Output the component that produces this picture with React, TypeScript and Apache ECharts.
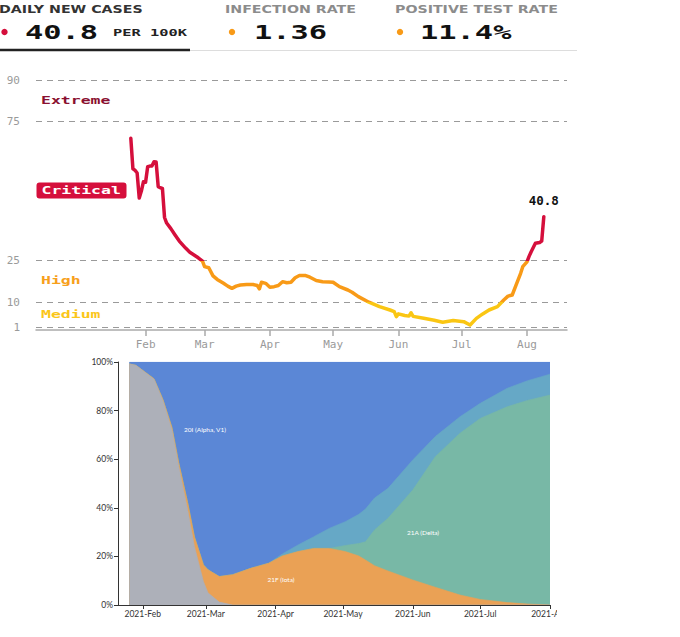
import React, { useEffect, useRef } from "react";
import * as echarts from "echarts";

// ---------- Daily new cases per 100K ----------
const caseDates = [
  "2021-01-25", "2021-01-26", "2021-01-27", "2021-01-28", "2021-01-29", "2021-01-30", "2021-01-31",
  "2021-02-01", "2021-02-02", "2021-02-03", "2021-02-04", "2021-02-05", "2021-02-06", "2021-02-07",
  "2021-02-08", "2021-02-09", "2021-02-10", "2021-02-11", "2021-02-13", "2021-02-15", "2021-02-17",
  "2021-02-20", "2021-02-22", "2021-02-24", "2021-02-26", "2021-02-28", "2021-03-01", "2021-03-03",
  "2021-03-05", "2021-03-07", "2021-03-10", "2021-03-12", "2021-03-14", "2021-03-16", "2021-03-18",
  "2021-03-21", "2021-03-24", "2021-03-26", "2021-03-27", "2021-03-28", "2021-03-30", "2021-04-01",
  "2021-04-03", "2021-04-05", "2021-04-07", "2021-04-09", "2021-04-11", "2021-04-13", "2021-04-15",
  "2021-04-18", "2021-04-20", "2021-04-23", "2021-04-26", "2021-04-29", "2021-05-01", "2021-05-04",
  "2021-05-08", "2021-05-10", "2021-05-13", "2021-05-18", "2021-05-23", "2021-05-28", "2021-05-30",
  "2021-05-31", "2021-06-01", "2021-06-04", "2021-06-06", "2021-06-07", "2021-06-08", "2021-06-13",
  "2021-06-18", "2021-06-22", "2021-06-27", "2021-07-02", "2021-07-05", "2021-07-08", "2021-07-11",
  "2021-07-14", "2021-07-18", "2021-07-21", "2021-07-23", "2021-07-25", "2021-07-27", "2021-07-29",
  "2021-07-30", "2021-08-01", "2021-08-02", "2021-08-03", "2021-08-05", "2021-08-07", "2021-08-08",
  "2021-08-09",
];
const caseValues = [
  69, 58, 57.5, 56.5, 47.5, 50, 53.4,
  53.2, 58.8, 59, 59, 60.6, 60.5, 51.6,
  51.2, 51, 40.5, 38.5, 36.5, 34.2, 32,
  29.5, 28, 27, 26, 24.8, 22.8, 22.4,
  19.5, 18.2, 16.8, 15.8, 15, 15.8, 16.2,
  16.4, 16.4, 16, 14.8, 17.2, 16.8, 15.4,
  15.6, 16, 17.4, 17.0, 17.2, 18.8, 19.6,
  19.6, 19.0, 17.8, 17.4, 17.3, 17.2, 15.6,
  14.4, 13.6, 12, 10, 8.4, 7.2, 6.6,
  4.8, 5.8, 5.2, 5.0, 6.2, 4.9, 4.2,
  3.5, 2.8, 3.4, 3.0, 1.8, 4.2, 5.8,
  7.2, 8.4, 10.8, 12.2, 12.6, 16.5, 20.4,
  22.8, 24.5, 26.5, 28.2, 31.2, 31.5, 32,
  40.8,
];
const caseLevelTicks = [1, 10, 25, 75, 90];
const caseMonthTicks = ["2021-02-01", "2021-03-01", "2021-04-01", "2021-05-01", "2021-06-01", "2021-07-01", "2021-08-01"];
const caseAxisStart = "2020-12-11";
const caseAxisEnd = "2021-08-20";
const monthNames = ["Jan", "Feb", "Mar", "Apr", "May", "Jun", "Jul", "Aug", "Sep", "Oct", "Nov", "Dec"];

// ---------- Variant shares (%) ----------
const variantDates = [
  "2021-01-26", "2021-01-29", "2021-02-06", "2021-02-10", "2021-02-14", "2021-02-17", "2021-02-21",
  "2021-02-24", "2021-02-28", "2021-03-02", "2021-03-07", "2021-03-13", "2021-03-21", "2021-03-29",
  "2021-04-04", "2021-04-11", "2021-04-18", "2021-04-25", "2021-05-02", "2021-05-08", "2021-05-11",
  "2021-05-15", "2021-05-21", "2021-06-01", "2021-06-11", "2021-06-22", "2021-07-01", "2021-07-13",
  "2021-07-22", "2021-08-01",
];
const otherShare = [
  99.2, 98.6, 92.9, 84, 72, 57, 39,
  24, 9.6, 5, 1.2, 0, 0, 0,
  0, 0, 0, 0, 0, 0, 0,
  0, 0, 0, 0, 0, 0, 0,
  0, 0,
];
const iotaShare = [
  0, 0, 0.2, 0.5, 1, 1.5, 3,
  4, 6.9, 9.5, 10.5, 12.5, 15.1, 17.2,
  20.2, 22, 23.3, 23.3, 22, 20.2, 18.5,
  16.2, 14, 10.3, 7.3, 4.1, 2.3, 1,
  0.4, 0,
];
const deltaShare = [
  0, 0, 0, 0, 0, 0, 0,
  0, 0, 0, 0, 0, 0, 0,
  0, 0, 0, 0, 2.5, 5.1, 7.5,
  14.7, 21.7, 37, 53.7, 66.6, 74.5, 80.6,
  83.8, 86.4,
];
const gammaShare = [
  0, 0, 0, 0, 0, 0, 0,
  0, 0, 0, 0, 0, 0, 0,
  0.8, 2.7, 4.8, 8.3, 9.8, 12, 13.5,
  13.1, 12.3, 12.4, 8.3, 6.8, 6.2, 7.6,
  8.1, 8.6,
];
const alphaShare = [
  0.8, 1.4, 6.9, 15.5, 27, 41.5, 58,
  72, 83.5, 85.5, 88.3, 87.5, 84.9, 82.8,
  79, 75.3, 71.9, 68.4, 65.7, 62.7, 60.5,
  56, 52, 40.3, 30.7, 22.5, 17, 10.8,
  7.7, 5,
];
const variantMonthTicks = ["2021-02-01", "2021-03-01", "2021-04-01", "2021-05-01", "2021-06-01", "2021-07-01", "2021-08-01"];
const variantAxisStart = "2021-01-21";
const variantAxisEnd = "2021-08-01";

const ts = (s: string) => {
  const [y, m, d] = s.split("-").map(Number);
  return new Date(y, m - 1, d).getTime();
};

const RED = "#d50f3c";
const ORANGE = "#f89a17";
const YELLOW = "#fac613";
const MONO = "DejaVu Sans Mono";

export default function App() {
  const ref = useRef<HTMLDivElement>(null);

  useEffect(() => {
    if (!ref.current) return;
    const chart = echarts.init(ref.current, undefined, { renderer: "svg" });

    const caseData = caseDates.map((d, i) => [ts(d), caseValues[i]]);
    const last = caseData[caseData.length - 1];
    const caseTickTs = caseMonthTicks.map(ts);
    const variantTickTs = variantMonthTicks.map(ts);

    // stacking order bottom -> top
    const layers = [
      { name: "Other", vals: otherShare, color: "#adb0b9" },
      { name: "21F (Iota)", vals: iotaShare, color: "#eaa155" },
      { name: "21A (Delta)", vals: deltaShare, color: "#78b8a6" },
      { name: "20J (Gamma)", vals: gammaShare, color: "#66a8c6" },
      { name: "20I (Alpha, V1)", vals: alphaShare, color: "#5b87d6" },
    ];
    const running = variantDates.map(() => 0);
    const cumulative = layers.map((l) =>
      l.vals.map((v, i) => {
        running[i] += v;
        return running[i];
      })
    );
    // draw the top layer first so lower layers paint over it
    const areaSeries = layers
      .map((l, k) => ({
        name: l.name,
        type: "line",
        xAxisIndex: 1,
        yAxisIndex: 1,
        symbol: "none",
        showSymbol: false,
        silent: true,
        lineStyle: { width: 0.6, color: l.color },
        itemStyle: { color: l.color },
        areaStyle: { color: l.color, opacity: 1, origin: "start" },
        data: variantDates.map((d, i) => [ts(d), Math.min(100, cumulative[k][i])]),
        z: 2 + k,
      }))
      .reverse()
      .map((s, j) => ({ ...s, z: 2 + j }));

    const monoText = (text: string, x: number, y: number, size: number, fill: string, scaleX: number, align = "left") => ({
      type: "text",
      x,
      y,
      scaleX,
      silent: true,
      z: 100,
      style: {
        text,
        fill,
        fontFamily: MONO,
        fontWeight: "bold",
        fontSize: size,
        textAlign: align,
        textVerticalAlign: "middle",
      },
    });
    const sansText = (text: string, x: number, y: number, fill: string) => ({
      type: "text",
      x,
      y,
      scaleX: 1.42,
      silent: true,
      z: 100,
      style: {
        text,
        fill,
        fontFamily: "DejaVu Sans",
        fontWeight: "bold",
        fontSize: 10,
        textAlign: "left",
        textVerticalAlign: "middle",
      },
    });
    const smallLabel = (text: string, x: number, y: number) => ({
      type: "text",
      x,
      y,
      silent: true,
      z: 100,
      style: {
        text,
        fill: "#ffffff",
        fontFamily: "Lato",
        fontSize: 6.5,
        textAlign: "center",
        textVerticalAlign: "middle",
      },
    });

    const option: any = {
      animation: false,
      backgroundColor: "#ffffff",
      grid: [
        { left: 36, right: 113, top: 80, bottom: 307 },
        { left: 118, right: 130, top: 362, bottom: 32 },
      ],
      xAxis: [
        {
          type: "value",
          gridIndex: 0,
          min: ts(caseAxisStart),
          max: ts(caseAxisEnd),
          axisLine: { show: true, lineStyle: { color: "#aaaaaa", width: 1.5 } },
          axisTick: { show: true, customValues: caseTickTs, length: 6, lineStyle: { color: "#aaaaaa", width: 1.5 } },
          axisLabel: {
            customValues: caseTickTs,
            formatter: (v: number) => monthNames[new Date(v).getMonth()],
            color: "#9a9a9a",
            fontFamily: MONO,
            fontSize: 11,
            margin: 9,
          },
          splitLine: { show: false },
        },
        {
          type: "value",
          gridIndex: 1,
          min: ts(variantAxisStart),
          max: ts(variantAxisEnd),
          axisLine: { show: true, lineStyle: { color: "#333333", width: 1 } },
          axisTick: { show: true, customValues: variantTickTs, length: 4, lineStyle: { color: "#333333" } },
          axisLabel: {
            customValues: variantTickTs,
            formatter: (v: number) => "2021-" + monthNames[new Date(v).getMonth()],
            color: "#333333",
            fontFamily: "Lato",
            fontSize: 8.5,
            margin: 4,
          },
          splitLine: { show: false },
          z: 20,
        },
      ],
      yAxis: [
        {
          type: "value",
          gridIndex: 0,
          min: 0,
          max: 90,
          axisLine: { show: false },
          axisTick: { show: false },
          splitLine: { show: false },
          axisLabel: {
            customValues: caseLevelTicks,
            color: "#9a9a9a",
            fontFamily: MONO,
            fontSize: 11,
            margin: 16,
          },
        },
        {
          type: "value",
          gridIndex: 1,
          min: 0,
          max: 100,
          interval: 20,
          axisLine: { show: true, lineStyle: { color: "#333333" } },
          axisTick: { show: true, length: 4, lineStyle: { color: "#333333" } },
          splitLine: { show: false },
          axisLabel: {
            formatter: "{value}%",
            color: "#333333",
            fontFamily: "Lato",
            fontSize: 8.5,
            margin: 5,
          },
          z: 20,
        },
      ],
      visualMap: [
        {
          type: "piecewise",
          show: false,
          dimension: 1,
          seriesIndex: 0,
          pieces: [
            { lt: 10, color: YELLOW },
            { gte: 10, lt: 25, color: ORANGE },
            { gte: 25, color: RED },
          ],
        },
      ],
      series: [
        {
          name: "Daily new cases",
          type: "line",
          xAxisIndex: 0,
          yAxisIndex: 0,
          showSymbol: false,
          symbol: "none",
          lineStyle: { width: 3.5, cap: "round", join: "round" },
          data: caseData,
          z: 5,
          markLine: {
            silent: true,
            symbol: ["none", "none"],
            label: { show: false },
            lineStyle: { type: [6, 5], color: "#9a9a9a", width: 1 },
            data: caseLevelTicks.map((v) => ({ yAxis: v })),
            z: 1,
          },
          markPoint: {
            silent: true,
            symbol: "circle",
            symbolSize: 1,
            itemStyle: { color: "rgba(0,0,0,0)" },
            label: {
              show: true,
              position: "top",
              distance: 9,
              formatter: (p: any) => String(p.value),
              color: "#111111",
              fontFamily: MONO,
              fontWeight: "bold",
              fontSize: 12.5,
            },
            data: [{ coord: last, value: last[1] }],
          },
        },
        ...areaSeries,
      ],
      graphic: [
        // header
        sansText("DAILY NEW CASES", -1, 10, "#333333"),
        sansText("INFECTION RATE", 225, 10, "#8c8c8c"),
        sansText("POSITIVE TEST RATE", 395, 10, "#8c8c8c"),
        { type: "circle", shape: { cx: 4.5, cy: 32, r: 3.2 }, style: { fill: RED }, silent: true },
        { type: "circle", shape: { cx: 232, cy: 32, r: 3.2 }, style: { fill: ORANGE }, silent: true },
        { type: "circle", shape: { cx: 400, cy: 32, r: 3.2 }, style: { fill: ORANGE }, silent: true },
        monoText("40.8", 25, 32, 19, "#111111", 1.6),
        monoText("PER 100K", 113, 33, 9.5, "#222222", 1.62),
        monoText("1.36", 254, 32, 19, "#111111", 1.6),
        monoText("11.4%", 420, 32, 19, "#111111", 1.6),
        { type: "line", shape: { x1: 0, y1: 50, x2: 190, y2: 50 }, style: { stroke: "#222222", lineWidth: 2.5 }, silent: true },
        { type: "line", shape: { x1: 190, y1: 50.5, x2: 577, y2: 50.5 }, style: { stroke: "#dddddd", lineWidth: 1 }, silent: true },
        // risk level labels
        monoText("Extreme", 41, 100, 10.5, "#8a1030", 1.57),
        { type: "rect", shape: { x: 36.5, y: 182.5, width: 90, height: 16, r: 3 }, style: { fill: RED }, silent: true, z: 99 },
        monoText("Critical", 41.5, 190.5, 10.5, "#ffffff", 1.57),
        monoText("High", 41, 280, 10.5, "#f7a01c", 1.57),
        monoText("Medium", 41, 314, 10.5, "#fbc61a", 1.57),
        // variant labels
        smallLabel("20I (Alpha, V1)", 205, 429),
        smallLabel("21F (Iota)", 281, 579),
        smallLabel("21A (Delta)", 423, 532),
        // image crop at right edge of lower chart
        { type: "rect", shape: { x: 557, y: 606, width: 123, height: 25 }, style: { fill: "#ffffff" }, silent: true, z: 200 },
      ],
    };

    chart.setOption(option);
    return () => chart.dispose();
  }, []);

  return (
    <div
      ref={ref}
      style={{ position: "absolute", left: 0, top: 0, width: 680, height: 637, background: "#ffffff" }}
    />
  );
}
